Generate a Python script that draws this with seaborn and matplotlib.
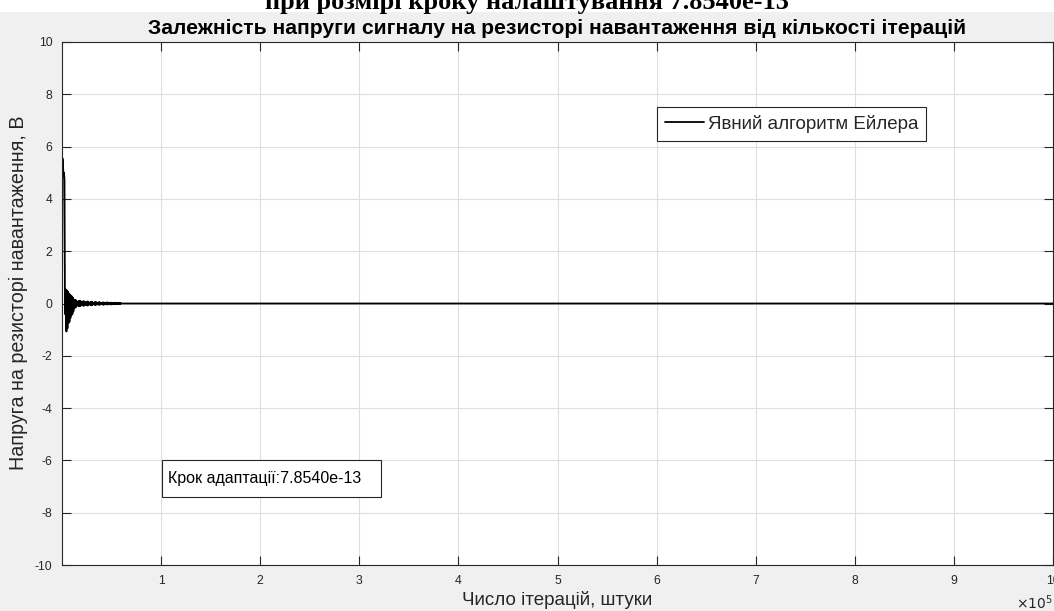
import matplotlib
matplotlib.use("Agg")
import numpy as np
import pandas as pd
import matplotlib.pyplot as plt
import seaborn as sns
from matplotlib.patches import Rectangle

# Iteration index of the stored samples: every 500th step up to 60 000, then the final step
iterations = list(range(0, 60001, 500)) + [1_000_000]

# Load-resistor voltage, V
v_start = [0.0, 5.55, 5.25, 4.95, 5.0, 4.75]
v_ringing = [-0.4, 0.55, -0.75, -1.07, 0.5, -0.95, 0.45, -0.75, 0.38, -0.7,
             0.34, -0.55, 0.3, -0.45, 0.27, -0.4, 0.22, -0.3, 0.15]
v_beats = [
    -0.18, 0.14, -0.15, 0.13, -0.12, 0.08, -0.06, 0.06,
    -0.08, 0.10, -0.11, 0.11, -0.10, 0.08, -0.05, 0.04,
    -0.06, 0.08, -0.09, 0.09, -0.08, 0.06, -0.04, 0.04,
    -0.05, 0.07, -0.08, 0.08, -0.07, 0.05, -0.03, 0.03,
    -0.05, 0.06, -0.07, 0.07, -0.06, 0.04, -0.03, 0.03,
    -0.04, 0.05, -0.06, 0.06, -0.05, 0.04, -0.03, 0.02,
    -0.04, 0.05, -0.05, 0.05, -0.04, 0.03, -0.02, 0.02,
    -0.03, 0.04, -0.05, 0.04, -0.04, 0.03, -0.02, 0.02,
    -0.03, 0.04, -0.04, 0.04, -0.03, 0.03, -0.02, 0.02,
    -0.03, 0.03, -0.04, 0.03, -0.03, 0.02, -0.02, 0.02,
    -0.02, 0.03, -0.03, 0.03, -0.02, 0.02, -0.02, 0.02,
    -0.02, 0.02, -0.02, 0.02, -0.02, 0.02, -0.01, 0.0,
]
v_tail = [0.0]
voltage = v_start + v_ringing + v_beats + v_tail

x_ticks = [1e5, 2e5, 3e5, 4e5, 5e5, 6e5, 7e5, 8e5, 9e5, 1e6]
x_tick_labels = ["1", "2", "3", "4", "5", "6", "7", "8", "9", "10"]
y_ticks = [-10, -8, -6, -4, -2, 0, 2, 4, 6, 8, 10]

series_name = "Явний алгоритм Ейлера"
step_size = "7.8540e-13"

df = pd.DataFrame({"iteration": iterations, "voltage": voltage})

sns.set_style("ticks")
plt.rcParams["font.family"] = ["Liberation Sans", "DejaVu Sans"]
plt.rcParams["axes.unicode_minus"] = False
axis_color = "#262626"

W, H = 1054, 611
fig = plt.figure(figsize=(W / 100, H / 100), dpi=100, facecolor="#f0f0f0")
ax = fig.add_axes([62 / W, 1 - 565 / H, 991 / W, 523 / H])
ax.set_facecolor("white")

sns.lineplot(data=df, x="iteration", y="voltage", color="black", linewidth=1.3,
             estimator=None, sort=False, label=series_name, ax=ax)

ax.set_xlim(0, 1e6)
ax.set_ylim(-10, 10)
ax.set_xticks(x_ticks)
ax.set_xticklabels(x_tick_labels)
ax.set_yticks(y_ticks)
ax.grid(True, color="#dedede", linewidth=0.8)
ax.set_axisbelow(True)
ax.tick_params(direction="in", length=6.5, width=0.8, color=axis_color,
               labelcolor=axis_color, labelsize=8.8, pad=7,
               top=True, right=True)
for s in ax.spines.values():
    s.set_visible(True)
    s.set_color(axis_color)
    s.set_linewidth(0.8)

ax.set_xlabel("Число ітерацій, штуки", fontsize=13.5, color=axis_color, va="center")
ax.xaxis.set_label_coords(0.5, (565 - 600) / 523)
ax.set_ylabel("Напруга на резисторі навантаження, В", fontsize=14.2,
              color=axis_color, va="center")
ax.yaxis.set_label_coords((18 - 62) / 991, (565 - 293) / 523)

ax.set_title("Залежність напруги сигналу на резисторі навантаження від кількості ітерацій",
             fontsize=15.2, fontweight="bold", color="black",
             y=(565 - 28) / 523, va="center", pad=0)

# Scale factor for the x tick labels
fig.text(1053 / W, 1 - 603 / H, r"$\times10^5$", ha="right", va="center",
         fontsize=10, color=axis_color)

leg = ax.legend(loc="upper left", bbox_to_anchor=(657 / W, 1 - 107 / H),
                bbox_transform=fig.transFigure, fontsize=13.5, frameon=True,
                fancybox=False, edgecolor=axis_color, framealpha=1,
                handlelength=2.1, handletextpad=0.2, borderpad=0.42,
                borderaxespad=0)
leg.get_frame().set_linewidth(0.8)

# Text box with the adaptation step
fig.add_artist(Rectangle((162 / W, 1 - 497 / H), 219 / W, 37 / H,
                         transform=fig.transFigure, facecolor="white",
                         edgecolor=axis_color, linewidth=0.8))
fig.text(168 / W, 1 - 478.5 / H, "Крок адаптації:" + step_size, ha="left",
         va="center", fontsize=11.5, color="black")

# Upper heading strip
fig.add_artist(Rectangle((0, 1 - 12 / H), 1, 12 / H, transform=fig.transFigure,
                         facecolor="white", edgecolor="none"))
fig.text(527 / W, 1 - 9 / H, "при розмірі кроку налаштування " + step_size,
         ha="center", va="baseline", fontsize=19, fontweight="bold",
         family=["Liberation Serif", "DejaVu Serif"], color="black")

fig.savefig("out.png", dpi=100, facecolor=fig.get_facecolor())
